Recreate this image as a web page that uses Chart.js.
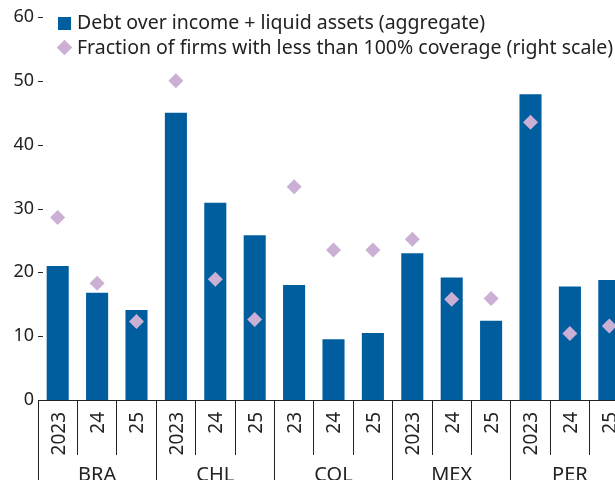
<!DOCTYPE html>
<html>
<head>
<meta charset="utf-8">
<script src="https://cdn.jsdelivr.net/npm/chart.js@4"></script>
<style>
    body { margin: 0; overflow: hidden; background: #fff; }
    #wrap { position: relative; width: 680px; height: 500px; }
    .lg { position: absolute; left: 77px; font: 19.5px "Noto Sans", sans-serif; line-height: 18px; color: #222; white-space: nowrap; }
    .sq { position: absolute; left: 58px; top: 17px; width: 13px; height: 13px; background: #005e9f; }
    .dm { position: absolute; left: 59px; top: 42px; width: 11px; height: 11px; background: #ccafd5; transform: rotate(45deg); }
</style>
</head>
<body>
<div id="wrap">
    <canvas id="chart" width="680" height="500"></canvas>
    <div class="sq"></div>
    <div class="lg" style="top:13px">Debt over income + liquid assets (aggregate)</div>
    <div class="dm"></div>
    <div class="lg" style="top:38px">Fraction of firms with less than 100% coverage (right scale)</div>
</div>
<script>
const years = ['2023', '24', '25', '2023', '24', '25', '23', '24', '25', '2023', '24', '25', '2023', '24', '25'];
const countries = ['BRA', 'CHL', 'COL', 'MEX', 'PER'];
const debtOverIncome = [21, 16.8, 14.1, 45, 30.9, 25.8, 18, 9.5, 10.5, 23, 19.2, 12.4, 47.9, 17.8, 18.8];
const firmsBelowCoverage = [28.6, 18.3, 12.3, 50, 18.9, 12.6, 33.4, 23.5, 23.5, 25.2, 15.8, 15.9, 43.5, 10.4, 11.6];

const ink = '#222';
const fontFamily = '"Noto Sans", sans-serif';

// inward tick marks on the left scale + the two-level category labels
const axisDecor = {
    id: 'axisDecor',
    afterDraw(chart) {
        const ctx = chart.ctx;
        const y = chart.scales.y;
        const x = chart.scales.x;
        const x2 = chart.scales.x2;
        const left = chart.chartArea.left;
        ctx.save();
        ctx.strokeStyle = ink;
        ctx.lineWidth = 1;
        y.ticks.forEach((t, i) => {
            const py = Math.round(y.getPixelForTick(i)) + 0.5;
            ctx.beginPath();
            ctx.moveTo(left, py);
            ctx.lineTo(left + 5, py);
            ctx.stroke();
        });

        ctx.fillStyle = ink;
        ctx.font = '19px ' + fontFamily;
        ctx.textAlign = 'right';
        ctx.textBaseline = 'alphabetic';
        years.forEach((lab, i) => {
            ctx.save();
            ctx.translate(x.getPixelForTick(i), x.top + 12);
            ctx.rotate(-Math.PI / 2);
            ctx.fillText(lab, 0, 6.8);
            ctx.restore();
        });

        ctx.font = '20px ' + fontFamily;
        ctx.textAlign = 'center';
        countries.forEach((lab, i) => {
            ctx.fillText(lab, x2.getPixelForTick(i), x2.top + 27);
        });
        ctx.restore();
    }
};

new Chart(document.getElementById('chart'), {
    data: {
        labels: years,
        datasets: [{
            type: 'line',
            label: 'Fraction of firms with less than 100% coverage (right scale)',
            data: firmsBelowCoverage,
            yAxisID: 'y2',
            showLine: false,
            pointStyle: 'rectRot',
            pointRadius: 7.5,
            pointHoverRadius: 7.5,
            pointBackgroundColor: '#ccafd5',
            pointBorderWidth: 0,
            order: 0
        }, {
            type: 'bar',
            label: 'Debt over income + liquid assets (aggregate)',
            data: debtOverIncome,
            yAxisID: 'y',
            backgroundColor: '#005e9f',
            barPercentage: 0.56,
            categoryPercentage: 1,
            order: 1
        }]
    },
    options: {
        responsive: false,
        animation: false,
        layout: { padding: { top: 17, right: 51, left: 0, bottom: 0 } },
        plugins: {
            legend: { display: false },
            tooltip: { enabled: false }
        },
        scales: {
            x: {
                type: 'category',
                offset: true,
                grid: { offset: true, drawOnChartArea: false, tickLength: 55, color: ink },
                border: { display: true, color: ink },
                ticks: { display: false, autoSkip: false },
                afterFit(scale) { scale.height = 54; }
            },
            x2: {
                type: 'category',
                position: 'bottom',
                labels: countries,
                offset: true,
                grid: { offset: true, drawOnChartArea: false, tickLength: 46, color: ink },
                border: { display: false },
                ticks: { display: false, autoSkip: false },
                afterFit(scale) { scale.height = 46; }
            },
            y: {
                position: 'left',
                min: 0, max: 60,
                grid: { display: false },
                border: { display: false },
                ticks: { stepSize: 10, padding: -4, color: ink, font: { family: fontFamily, size: 18 } },
                afterFit(scale) { scale.width = 38; }
            },
            y2: {
                position: 'right',
                min: 0, max: 60,
                display: false
            }
        }
    },
    plugins: [axisDecor]
});
</script>
</body>
</html>
